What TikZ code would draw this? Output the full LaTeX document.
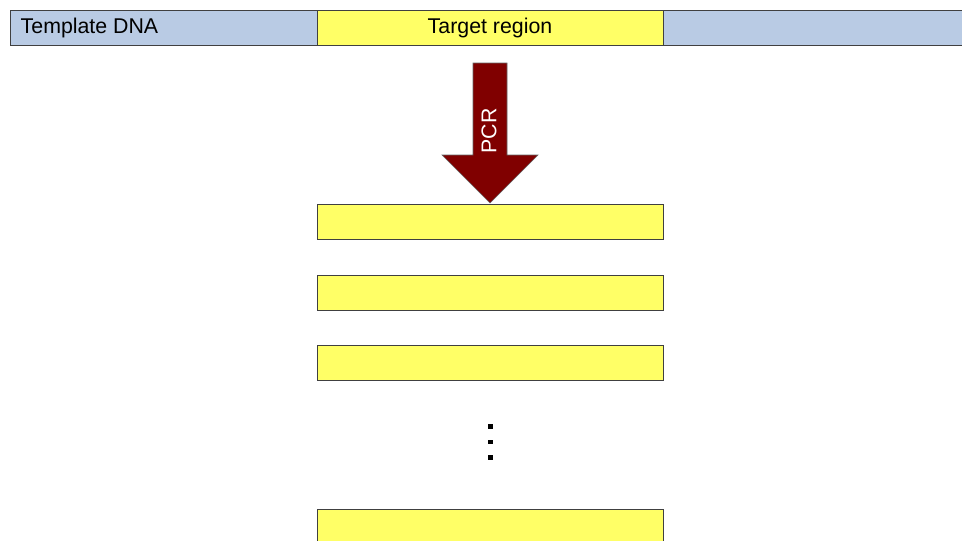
\documentclass[tikz,border=0pt]{standalone}
\usepackage{fontspec}
\setmainfont{Liberation Sans}
\usetikzlibrary{positioning}

\definecolor{dnablue}{RGB}{185,203,228}
\definecolor{regionyellow}{RGB}{255,255,102}
\definecolor{pcrred}{RGB}{128,0,0}

\begin{document}
\begin{tikzpicture}[x=0.75pt, y=-0.75pt, font=\fontsize{16}{19}\selectfont]
  \useasboundingbox (0,0) rectangle (962,540);

  \tikzset{
    strand/.style={draw=black!75, line width=0.6pt, inner sep=0, minimum height=26.25pt},
    amplicon/.style={strand, fill=regionyellow, minimum width=259.5pt},
  }

  % template strand with the target region on it
  \node[strand, fill=dnablue, minimum width=750pt] (template) at (510,27.5) {};
  \node[amplicon] (target) at (490,27.5) {Target region};
  \node[right] (tlabel) at (16,27.5) {Template DNA};

  % PCR arrow
  \draw[fill=pcrred, draw=black!60, line width=0.4pt]
    (473,63) -- (507,63) -- (507,155) -- (538,155) -- (490,203) -- (442,155) -- (473,155) -- cycle;
  \node[rotate=90, text=white] (pcr) at (489,131) {PCR};

  % copies
  \foreach \y/\name in {221.5/c1, 292.5/c2, 362.5/c3, 526.5/cn}
    \node[amplicon] (\name) at (490,\y) {};
  \foreach \y in {424,439.5,455}
    \fill (488,\y) rectangle (493,\y+4.5);
\end{tikzpicture}
\end{document}
